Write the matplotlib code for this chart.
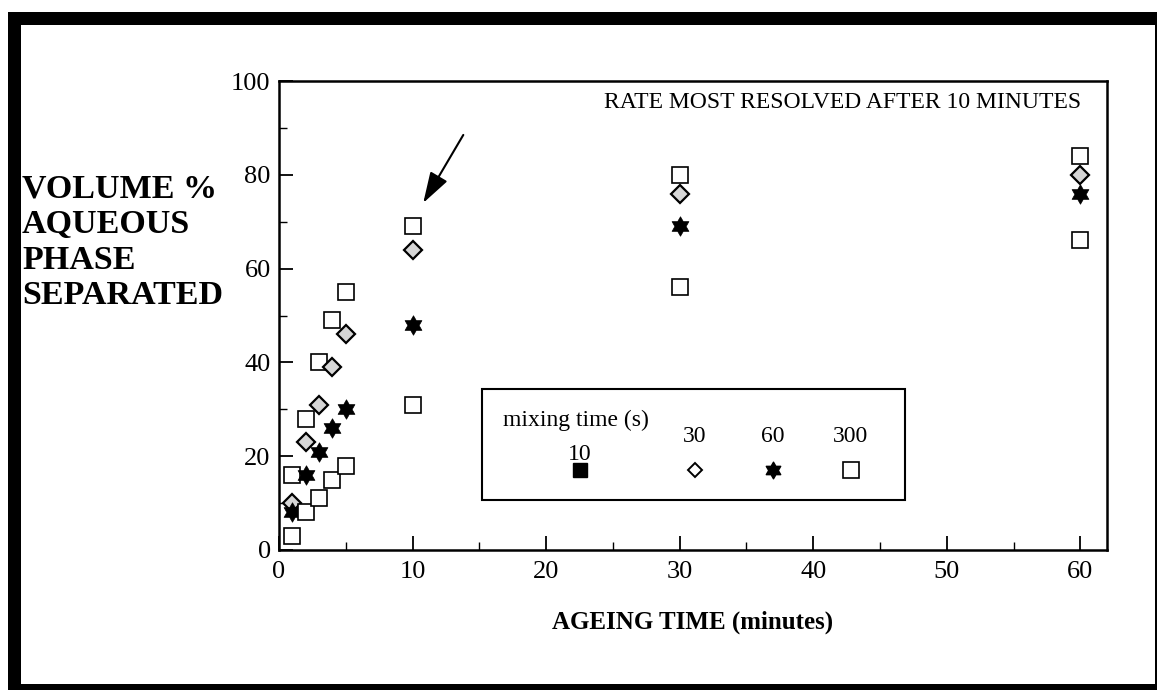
import numpy as np
import matplotlib
matplotlib.use("Agg")
import matplotlib.pyplot as plt
from matplotlib.path import Path
from matplotlib.patches import Rectangle
from matplotlib.lines import Line2D
from matplotlib.ticker import MultipleLocator

# ---- data (ageing time in minutes, volume % aqueous phase separated) ----
ageing_time = [1, 2, 3, 4, 5, 10, 30, 60]
mix10_values = [16, 28, 40, 49, 55, 69, 80, 84]
mix30_values = [10, 23, 31, 39, 46, 64, 76, 80]
mix60_values = [8, 16, 21, 26, 30, 48, 69, 76]
mix300_values = [3, 8, 11, 15, 18, 31, 56, 66]
legend_labels = ["10", "30", "60", "300"]

plt.rcParams['font.family'] = ['Liberation Serif', 'DejaVu Serif']

# hexagram marker
ang_out = np.pi / 2 + np.arange(6) * np.pi / 3
ang_in = ang_out + np.pi / 6
r_in = 1 / np.sqrt(3)
verts = []
for ao, ai in zip(ang_out, ang_in):
    verts.append((np.cos(ao), np.sin(ao)))
    verts.append((r_in * np.cos(ai), r_in * np.sin(ai)))
verts.append(verts[0])
codes = [Path.MOVETO] + [Path.LINETO] * (len(verts) - 2) + [Path.CLOSEPOLY]
hexagram = Path(verts, codes)

W, H = 1157, 690
fig = plt.figure(figsize=(W / 100, H / 100), dpi=100)
ax = fig.add_axes([279 / W, 1 - 550 / H, (1107 - 279) / W, (550 - 81) / H])

ax.plot(ageing_time, mix10_values, ls='none', marker='s', ms=11.5, mfc='white', mec='black', mew=1.2, zorder=3)
ax.plot(ageing_time, mix30_values, ls='none', marker='D', ms=9, mfc='#d6d6d6', mec='black', mew=1.6, zorder=3)
ax.plot(ageing_time, mix60_values, ls='none', marker=hexagram, ms=14, mfc='black', mec='black', mew=0.5, zorder=3)
ax.plot(ageing_time, mix300_values, ls='none', marker='s', ms=11.5, mfc='white', mec='black', mew=1.2, zorder=3)

ax.set_xlim(0, 62)
ax.set_ylim(0, 100)
ax.xaxis.set_minor_locator(MultipleLocator(5))
ax.yaxis.set_major_locator(MultipleLocator(20))
ax.yaxis.set_minor_locator(MultipleLocator(10))
ax.set_xticks([0, 10, 20, 30, 40, 50, 60])
ax.tick_params(which='major', direction='in', length=10, width=1.3, labelsize=19, pad=6)
ax.tick_params(which='minor', direction='in', length=6, width=1.0)
ax.tick_params(axis='x', pad=8)
for s in ax.spines.values():
    s.set_linewidth(1.8)

ax.set_xlabel('AGEING TIME (minutes)', fontsize=18, fontweight='bold', labelpad=20)
fig.text(22 / W, 1 - 173 / H, 'VOLUME %\nAQUEOUS\nPHASE\nSEPARATED', fontsize=24.5,
         fontweight='bold', ha='left', va='top', linespacing=1.2)

ax.text(24.3, 95.5, 'RATE MOST RESOLVED AFTER 10 MINUTES', fontsize=17, ha='left', va='center')
ax.annotate('', xy=(10.8, 74), xytext=(13.8, 88.5),
            arrowprops=dict(arrowstyle='-|>,head_length=1.9,head_width=0.6', color='black', lw=1.5,
                            shrinkA=0, shrinkB=0))

# legend box (manual layout)
fig.add_artist(Rectangle((482 / W, 1 - 500 / H), (905 - 482) / W, (500 - 389) / H,
                         transform=fig.transFigure, fill=False, ec='black', lw=1.5))
fig.text(503 / W, 1 - 420 / H, 'mixing time (s)', fontsize=17, ha='left', va='center')
lx = [580, 695, 773, 851]
ly_text = [455, 437, 437, 437]
for x, y, lab in zip(lx, ly_text, legend_labels):
    fig.text(x / W, 1 - y / H, lab, fontsize=17, ha='center', va='center')
leg_markers = [dict(marker='s', ms=10, mfc='black', mec='black'),
               dict(marker='D', ms=7.5, mfc='white', mec='black', mew=1.4),
               dict(marker=hexagram, ms=12, mfc='black', mec='black'),
               dict(marker='s', ms=11.5, mfc='white', mec='black', mew=1.2)]
for x, st in zip(lx, leg_markers):
    fig.add_artist(Line2D([x / W], [1 - 470 / H], transform=fig.transFigure, ls='none', **st))

# outer frame
k = 'black'
fig.add_artist(Rectangle((8 / W, 0), 13 / W, 1 - 12 / H, transform=fig.transFigure, color=k, lw=0))
fig.add_artist(Rectangle((8 / W, 1 - 25 / H), (1157 - 8) / W, 13 / H, transform=fig.transFigure, color=k, lw=0))
fig.add_artist(Rectangle((8 / W, 0), (1157 - 8) / W, 6 / H, transform=fig.transFigure, color=k, lw=0))
fig.add_artist(Rectangle((1155 / W, 0), 2 / W, 1 - 12 / H, transform=fig.transFigure, color=k, lw=0))

fig.savefig('out.png', dpi=100)
